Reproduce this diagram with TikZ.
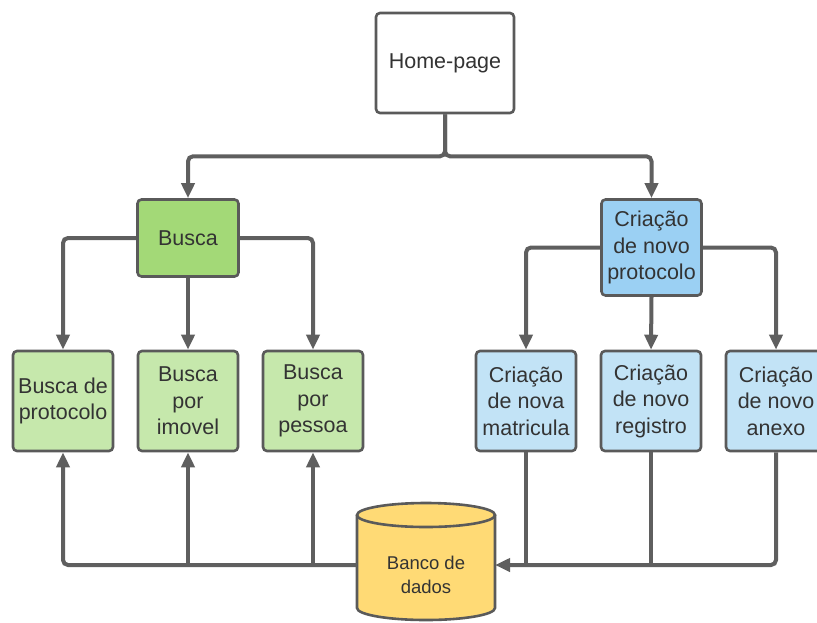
\documentclass[tikz,border=0pt]{standalone}
\usepackage{fontspec}
\setmainfont{Liberation Sans}
\usetikzlibrary{arrows.meta}
\definecolor{linegray}{HTML}{5F5F5F}
\definecolor{edgegray}{HTML}{5A5A5A}
\definecolor{txt}{HTML}{333333}
\definecolor{greenDark}{HTML}{A3D977}
\definecolor{greenLight}{HTML}{C6E8AC}
\definecolor{blueDark}{HTML}{9BD0F3}
\definecolor{blueLight}{HTML}{C2E3F6}
\definecolor{dbYellow}{HTML}{FFDA75}
\tikzset{
  box/.style={draw=edgegray, line width=2.6pt, rounded corners=4pt, fill=white,
    text=txt, align=center, inner sep=0pt,
    font=\fontsize{21.5}{26.5}\selectfont},
  leaf/.style={box, minimum width=100pt, minimum height=100pt},
  conn/.style={draw=linegray, line width=4pt, rounded corners=5pt},
  tip/.style={-{Triangle[length=15pt,width=13pt]}},
}
\begin{document}
\begin{tikzpicture}[x=1pt, y=-1pt]
\useasboundingbox (0,0) rectangle (817,622);

% top level
\node[box, minimum width=138pt, minimum height=100pt] (home) at (445,63) {Home-page};

% second level
\node[box, fill=greenDark, minimum width=101pt, minimum height=77pt] (busca) at (188,238) {Busca};
\node[box, fill=blueDark, minimum width=100pt, minimum height=96pt] (prot) at (651.5,247.5)
  {Criação\\de novo\\protocolo};

% search leaves
\node[leaf, fill=greenLight] (bprot) at (63,401) {Busca de\\protocolo};
\node[leaf, fill=greenLight] (bimov) at (188,401) {Busca\\por\\imovel};
\node[leaf, fill=greenLight] (bpess) at (313,401) {Busca\\por\\pessoa};

% creation leaves
\node[leaf, fill=blueLight] (cmat) at (526,401) {Criação\\de nova\\matricula};
\node[leaf, fill=blueLight] (creg) at (651,401) {Criação\\de novo\\registro};
\node[leaf, fill=blueLight] (canx) at (776,401) {Criação\\de novo\\anexo};

% database cylinder
\fill[dbYellow] (357,515) rectangle (495,608);
\fill[dbYellow] (426,608) ellipse[x radius=69pt, y radius=12pt];
\draw[edgegray, line width=2.6pt, fill=dbYellow] (357,515) -- (357,608)
  arc[start angle=180, end angle=360, x radius=69pt, y radius=12pt] -- (495,515);
\draw[edgegray, line width=2.6pt, fill=dbYellow] (426,515) ellipse[x radius=69pt, y radius=12pt];
\node[text=txt, align=center, font=\fontsize{18.5}{24}\selectfont] (db) at (426,575) {Banco de\\dados};
\coordinate (dbL) at (357,565);
\coordinate (dbR) at (495,565);

% home to second level
\draw[conn, tip] (home.south) -- ++(0,42) -| (busca.north);
\draw[conn, tip] (home.south) -- ++(0,42) -| (prot.north);

% search branch
\draw[conn, tip] (busca.west) -| (bprot.north);
\draw[conn, tip] (busca.south) -- (bimov.north);
\draw[conn, tip] (busca.east) -| (bpess.north);

% creation branch
\draw[conn, tip] (prot.west) -| (cmat.north);
\draw[conn, tip] (prot.south) -- (creg.north);
\draw[conn, tip] (prot.east) -| (canx.north);

% database feeds the search leaves
\draw[conn, tip] (dbL) -| (bprot.south);
\draw[conn, tip] (bimov.south |- dbL) -- (bimov.south);
\draw[conn, tip] (bpess.south |- dbL) -- (bpess.south);

% creation leaves write into the database
\draw[conn, tip] (canx.south) |- (dbR);
\draw[conn] (cmat.south) -- (cmat.south |- dbR);
\draw[conn] (creg.south) -- (creg.south |- dbR);
\end{tikzpicture}
\end{document}
